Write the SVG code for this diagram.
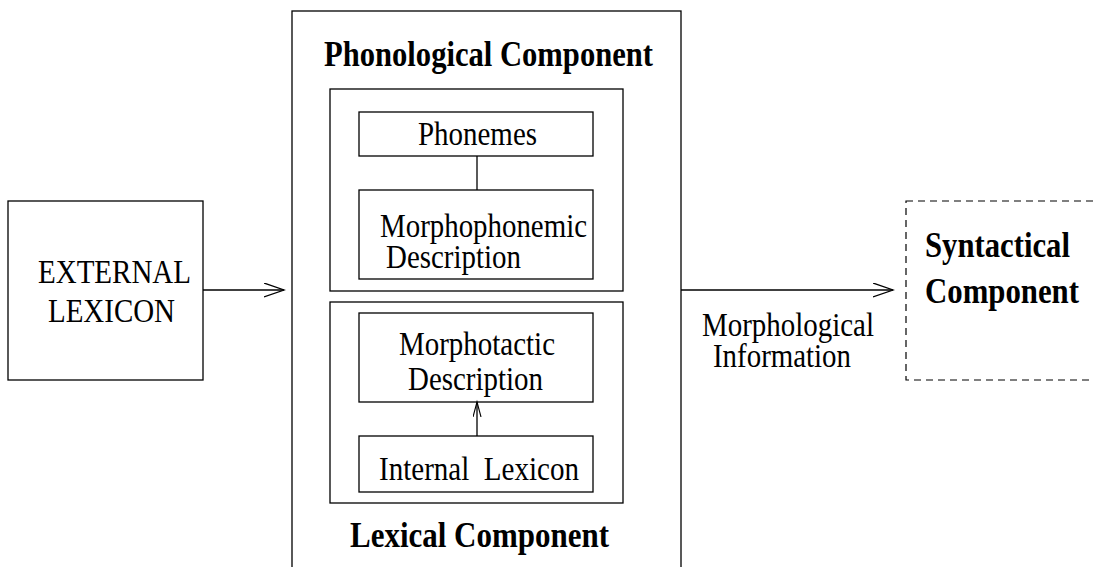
<svg xmlns="http://www.w3.org/2000/svg" width="1094" height="567" viewBox="0 0 1094 567">
<style>
.box{fill:none;stroke:#000;stroke-width:1.3}
.dash{fill:none;stroke:#000;stroke-width:1.2;stroke-dasharray:7 5}
.t{font-family:"Liberation Serif","Times New Roman",serif;font-size:34px;fill:#000}
.b{font-family:"Liberation Serif","Times New Roman",serif;font-size:35px;font-weight:bold;fill:#000}
.ln{fill:none;stroke:#000;stroke-width:1.3}
</style>
<defs>
<marker id="big" markerUnits="userSpaceOnUse" markerWidth="24" markerHeight="18" refX="20" refY="7" orient="auto">
<path d="M0,0 L20,7 L0,14" fill="none" stroke="#000" stroke-width="1.3"/>
</marker>
<marker id="small" markerUnits="userSpaceOnUse" markerWidth="18" markerHeight="12" refX="15" refY="4" orient="auto">
<path d="M0,0 L15,4 L0,8" fill="none" stroke="#000" stroke-width="1.1"/>
</marker>
</defs>
<g id="external-lexicon">
<rect class="box" x="8" y="201" width="195" height="179"/>
<text class="t" x="38" y="283" textLength="153" lengthAdjust="spacingAndGlyphs">EXTERNAL</text>
<text class="t" x="48" y="322" textLength="127" lengthAdjust="spacingAndGlyphs">LEXICON</text>
</g>
<g id="outer-component">
<rect class="box" x="292" y="11" width="389" height="580"/>
<text class="b" x="324" y="66" textLength="329" lengthAdjust="spacingAndGlyphs">Phonological Component</text>
<text class="b" x="350" y="547" textLength="259" lengthAdjust="spacingAndGlyphs">Lexical Component</text>
</g>
<g id="phonological-box">
<rect class="box" x="330" y="89" width="293" height="202"/>
</g>
<g id="phonemes">
<rect class="box" x="359" y="112" width="234" height="44"/>
<text class="t" x="418" y="145" textLength="119" lengthAdjust="spacingAndGlyphs">Phonemes</text>
</g>
<g id="morphophonemic">
<rect class="box" x="359" y="190" width="234" height="89"/>
<text class="t" x="380" y="237" textLength="207" lengthAdjust="spacingAndGlyphs">Morphophonemic</text>
<text class="t" x="386" y="268" textLength="135" lengthAdjust="spacingAndGlyphs">Description</text>
</g>
<g id="lexical-box">
<rect class="box" x="330" y="302" width="293" height="201"/>
</g>
<g id="morphotactic">
<rect class="box" x="359" y="313" width="234" height="89"/>
<text class="t" x="399" y="355" textLength="156" lengthAdjust="spacingAndGlyphs">Morphotactic</text>
<text class="t" x="408" y="390" textLength="135" lengthAdjust="spacingAndGlyphs">Description</text>
</g>
<g id="internal-lexicon">
<rect class="box" x="359" y="436" width="234" height="56"/>
<text class="t" x="379" y="480" xml:space="preserve" textLength="200" lengthAdjust="spacingAndGlyphs">Internal  Lexicon</text>
</g>
<g id="syntactical">
<rect class="dash" x="906" y="201" width="200" height="179"/>
<text class="b" x="925" y="257" textLength="145" lengthAdjust="spacingAndGlyphs">Syntactical</text>
<text class="b" x="925" y="303" textLength="154" lengthAdjust="spacingAndGlyphs">Component</text>
</g>
<g id="connectors">
<line class="ln" x1="203" y1="290" x2="284" y2="290" marker-end="url(#big)"/>
<line class="ln" x1="681" y1="290" x2="893" y2="290" marker-end="url(#big)"/>
<line class="ln" x1="477" y1="156" x2="477" y2="190"/>
<line class="ln" x1="477" y1="436" x2="477" y2="402" marker-end="url(#small)"/>
<text class="t" x="702" y="336" textLength="172" lengthAdjust="spacingAndGlyphs">Morphological</text>
<text class="t" x="713" y="367" textLength="138" lengthAdjust="spacingAndGlyphs">Information</text>
</g>
</svg>
